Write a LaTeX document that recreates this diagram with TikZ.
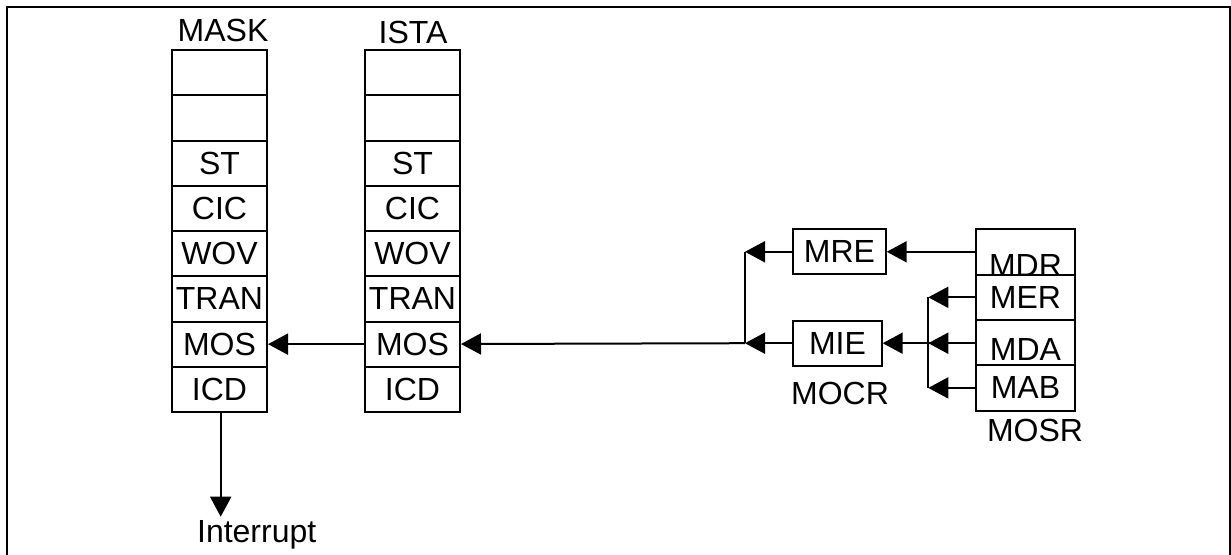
\documentclass[tikz,border=0pt]{standalone}
\usepackage{fontspec}
\setmainfont{Liberation Sans}
\usepackage{tikz}
\usetikzlibrary{arrows.meta,positioning,calc}
\newcommand{\sunk}[2]{\raisebox{#1}[0pt][0pt]{#2}}
\tikzset{
  cell/.style  ={draw, line width=2pt, minimum width=95pt, minimum height=45.25pt,
                 inner sep=0pt, font=\fontsize{32}{37}\selectfont},
  rcell/.style ={cell, minimum width=99pt},
  bit/.style   ={draw, line width=2pt, minimum height=45pt, inner sep=0pt,
                 font=\fontsize{32}{37}\selectfont},
  lbl/.style   ={inner sep=0pt, font=\fontsize{32}{37}\selectfont},
  arr/.style   ={-{Triangle[length=20pt,width=21pt]}, line width=2pt},
  wire/.style  ={line width=2pt},
}

\begin{document}
\begin{tikzpicture}[x=1pt,y=-1pt]
  \useasboundingbox (0,0) rectangle (1231,554);
  \draw[line width=2.6pt] (7,560) -- (7,7) -- (1230,7) -- (1230,560);

  % the two registers
  \foreach \t [count=\i] in {{},{},ST,CIC,WOV,TRAN,MOS,ICD} {
    \node[cell] (mask\i) at (219.5,27.4+45.25*\i) {\t};
    \node[cell] (ista\i) at (412.5,27.4+45.25*\i) {\t};
  }
  \node[lbl] (maskname) at (223,30) {MASK};
  \node[lbl] (istaname) at (413,32) {ISTA};

  % MOSR
  \foreach \t [count=\i] in {{\sunk{-24pt}{MDR}},MER,{\sunk{-18pt}{MDA}},MAB}
    \node[rcell] (mosr\i) at (1025.5,206.7+45.3*\i) {\t};
  \node[lbl] (mosrname) at (1035,430) {MOSR};

  % MOCR
  \node[bit,minimum width=92.4pt] (mre) at (839.5,251.8) {MRE};
  \node[bit,minimum width=88.4pt] (mie) at (837.5,343.2) {MIE};
  \node[lbl] (mocrname) at (840,393) {MOCR};

  \coordinate (ja) at (745,251.8);
  \coordinate (jb) at (745,343.2);
  \coordinate (ka) at (928.3,0 |- mosr2);
  \coordinate (kb) at (928.3,0 |- mie);
  \coordinate (kc) at (928.3,0 |- mosr4);

  \draw[arr] (mosr1.west |- mre) -- (mre);
  \draw[arr] (mosr2.west) -- (ka);
  \draw[arr] (mosr3.west |- mie) -- (mie);
  \draw[arr] (mosr4.west) -- (kc);
  \draw[wire] (ka) -- (kc);
  \draw[arr] (mosr3.west |- mie) -- (kb);

  \draw[arr] (mre) -- (ja);
  \draw[arr] (mie) -- (jb);
  \draw[wire] (ja) -- (jb);
  \draw[arr] (jb) -- (ista7);
  \draw[arr] (ista7) -- (mask7);

  \coordinate (intr) at (220.7,516.7);
  \draw[arr] (mask8.south -| intr) -- (intr);
  \node[lbl] (interrupt) at (256.7,535) {Interrupt};
\end{tikzpicture}
\end{document}
